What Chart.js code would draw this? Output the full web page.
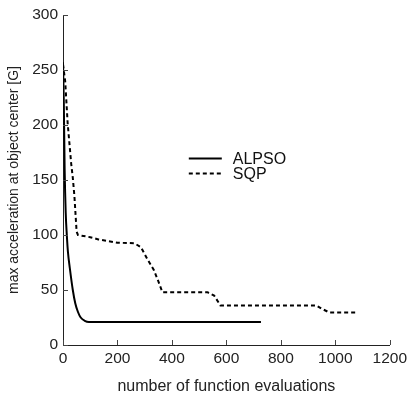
<!DOCTYPE html>
<html>
<head>
<meta charset="utf-8">
<script src="https://cdn.jsdelivr.net/npm/chart.js@4/dist/chart.umd.min.js"></script>
<style>
html,body{margin:0;padding:0;background:#fff;}
#wrap{width:411px;height:396px;position:relative;}
</style>
</head>
<body>
<div id="wrap"><canvas id="c"></canvas></div>
<script>
// Data
const seriesNames = ["ALPSO", "SQP"];
const alpsoEvals = [0, 3, 6, 10, 14, 18, 25, 36, 45, 55, 65, 80, 95, 727];
const alpsoAccel = [257, 220, 160, 120, 100, 85, 70, 50, 38, 30, 25, 22, 21, 21];
const sqpEvals = [0, 8, 17, 30, 36, 42, 50, 55, 100, 130, 200, 262, 286, 310, 334, 350, 365, 530, 555, 578, 930, 950, 979, 1082];
const sqpAccel = [255, 240, 202, 165, 152, 135, 103, 100, 98, 96, 93, 92.5, 89, 78, 68, 58, 48, 48, 45, 36, 36, 33, 29.5, 29.5];
const xTitle = "number of function evaluations";
const yTitle = "max acceleration at object center [G]";

const toPts = (xs, ys) => xs.map((x, i) => ({x: x, y: ys[i]}));

const FONT = "'Liberation Sans', Arial, sans-serif";

const tickPlugin = {
  id: 'inwardTicks',
  afterDatasetsDraw(chart) {
    const ctx = chart.ctx;
    const xs = chart.scales.x, ys = chart.scales.y;
    const area = chart.chartArea;
    ctx.save();
    ctx.strokeStyle = '#444';
    ctx.lineWidth = 1;
    xs.ticks.forEach(t => {
      const px = Math.round(xs.getPixelForValue(t.value)) + 0.5;
      ctx.beginPath();
      ctx.moveTo(px, area.bottom);
      ctx.lineTo(px, area.bottom - 5);
      ctx.stroke();
    });
    ys.ticks.forEach(t => {
      const py = Math.round(ys.getPixelForValue(t.value)) + 0.5;
      ctx.beginPath();
      ctx.moveTo(area.left, py);
      ctx.lineTo(area.left + 5, py);
      ctx.stroke();
    });
    ctx.restore();
  }
};

const legendPlugin = {
  id: 'customLegend',
  afterDatasetsDraw(chart) {
    const ctx = chart.ctx;
    const xs = chart.scales.x, ys = chart.scales.y;
    const x0 = xs.getPixelForValue(462);
    const y0 = ys.getPixelForValue(170);
    ctx.save();
    ctx.font = "16px " + FONT;
    ctx.textBaseline = 'middle';
    ctx.fillStyle = '#111';
    chart.data.datasets.forEach((ds, i) => {
      const y = Math.round(y0 + i * 14.5) + 0.5;
      ctx.beginPath();
      ctx.strokeStyle = ds.borderColor;
      ctx.lineWidth = ds.borderWidth;
      ctx.setLineDash(ds.borderDash || []);
      ctx.moveTo(x0, y);
      ctx.lineTo(x0 + 33, y);
      ctx.stroke();
      ctx.setLineDash([]);
      ctx.fillText(ds.label, x0 + 44, y + 1);
    });
    ctx.restore();
  }
};

new Chart(document.getElementById('c'), {
  type: 'line',
  data: {
    datasets: [
      {label: seriesNames[0], data: toPts(alpsoEvals, alpsoAccel), borderColor: '#000', borderWidth: 2, pointRadius: 0, cubicInterpolationMode: 'monotone', fill: false},
      {label: seriesNames[1], data: toPts(sqpEvals, sqpAccel), borderColor: '#000', borderWidth: 2, borderDash: [4, 3], pointRadius: 0, tension: 0, fill: false}
    ]
  },
  options: {
    responsive: true,
    maintainAspectRatio: false,
    animation: false,
    layout: {padding: {left: 0, top: 15, right: 19, bottom: 0}},
    plugins: {legend: {display: false}, tooltip: {enabled: false}},
    scales: {
      x: {
        type: 'linear', min: 0, max: 1200,
        ticks: {stepSize: 200, color: '#222', font: {family: FONT, size: 15.5}, padding: 4, maxRotation: 0,
          callback: v => String(v)},
        grid: {display: true, drawOnChartArea: false, drawTicks: false},
        border: {display: true, color: '#222', width: 1},
        title: {display: true, text: xTitle, color: '#222', font: {family: FONT, size: 16}, padding: {top: 4, bottom: 0}},
        afterFit(s) { s.height = 51; }
      },
      y: {
        type: 'linear', min: 0, max: 300,
        ticks: {stepSize: 50, color: '#222', font: {family: FONT, size: 15.5}, padding: 5,
          callback: v => String(v)},
        grid: {display: true, drawOnChartArea: false, drawTicks: false},
        border: {display: true, color: '#222', width: 1},
        title: {display: true, text: yTitle, color: '#222', font: {family: FONT, size: 14}, padding: {top: 6, bottom: 0}},
        afterFit(s) { s.width = 63; }
      }
    }
  },
  plugins: [tickPlugin, legendPlugin]
});
</script>
</body>
</html>
